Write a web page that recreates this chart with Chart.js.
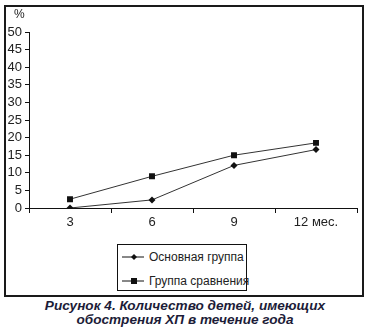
<!DOCTYPE html>
<html>
<head>
<meta charset="utf-8">
<script src="https://cdn.jsdelivr.net/npm/chart.js@4.4.0/dist/chart.umd.min.js"></script>
<style>
  html, body { margin: 0; padding: 0; background: #fff; }
  body { width: 370px; height: 334px; position: relative; overflow: hidden; font-family: "Liberation Sans", Arial, sans-serif; }
  #frame { position: absolute; left: 4px; top: 5px; width: 356px; height: 288px; border: 2px solid #1a1a1a; }
  #c { position: absolute; left: 0; top: 0; }
  #pct { position: absolute; left: 14px; top: 7px; font-size: 12px; color: #222; }
  #legend { position: absolute; left: 117px; top: 244px; width: 128px; height: 45px; border: 1.5px solid #111; font-size: 12px; color: #222; }
  .item { position: absolute; left: 4px; height: 14px; line-height: 14px; white-space: nowrap; }
  .item svg { position: absolute; left: 0; top: 1px; }
  .item span { position: absolute; left: 27px; top: 0; }
  #caption { position: absolute; left: 0; width: 370px; top: 299px; text-align: center; font-weight: bold; font-style: italic; font-size: 13.6px; line-height: 14px; color: #1c1c38; }
</style>
</head>
<body>
<div id="frame"></div>
<canvas id="c" width="370" height="240"></canvas>
<div id="pct">%</div>
<div id="legend">
  <div class="item" style="top:5px"><svg width="24" height="12"><line x1="0" y1="6" x2="22" y2="6" stroke="#111" stroke-width="1"/><polygon points="12,3 15,6 12,9 9,6" fill="#111"/></svg><span id="l0"></span></div>
  <div class="item" style="top:29px"><svg width="24" height="12"><line x1="0" y1="6" x2="22" y2="6" stroke="#111" stroke-width="1"/><rect x="9" y="3" width="6" height="6" fill="#111"/></svg><span id="l1"></span></div>
</div>
<div id="caption">Рисунок 4. Количество детей, имеющих<br>обострения ХП в течение года</div>
<script>
const categories = ["3", "6", "9", "12 мес."];
const seriesNames = ["Основная группа", "Группа сравнения"];
const mainGroup = [0, 2.3, 12.1, 16.6];
const compareGroup = [2.5, 9.0, 15.0, 18.5];
const yTicks = [0, 5, 10, 15, 20, 25, 30, 35, 40, 45, 50];

document.getElementById('l0').textContent = seriesNames[0];
document.getElementById('l1').textContent = seriesNames[1];

const font = { family: '"Liberation Sans", Arial, sans-serif', size: 13 };

new Chart(document.getElementById('c'), {
  type: 'line',
  data: {
    labels: categories,
    datasets: [
      { label: seriesNames[0], data: mainGroup, borderColor: '#333', borderWidth: 1, pointStyle: 'rectRot', pointRadius: 3.5, pointBackgroundColor: '#111', pointBorderColor: '#111', pointBorderWidth: 0, tension: 0 },
      { label: seriesNames[1], data: compareGroup, borderColor: '#333', borderWidth: 1, pointStyle: 'rect', pointRadius: 4.2, pointBackgroundColor: '#111', pointBorderColor: '#111', pointBorderWidth: 0, tension: 0 }
    ]
  },
  options: {
    responsive: false,
    animation: false,
    devicePixelRatio: 1,
    layout: { padding: { left: 0, right: 13, top: 32, bottom: 0 } },
    plugins: { legend: { display: false }, tooltip: { enabled: false } },
    scales: {
      x: {
        type: 'category',
        offset: true,
        grid: { display: true, drawOnChartArea: false, drawTicks: true, tickLength: 5, offset: true, color: '#111' },
        border: { display: true, color: '#111', width: 1 },
        ticks: { font: font, color: '#222', padding: 2, maxRotation: 0, autoSkip: false },
        afterFit: s => { s.height = 32; }
      },
      y: {
        min: 0, max: 50,
        afterBuildTicks: s => { s.ticks = yTicks.map(v => ({ value: v })); },
        grid: { display: true, drawOnChartArea: false, drawTicks: true, tickLength: 4, color: '#111' },
        border: { display: true, color: '#111', width: 1 },
        ticks: { font: font, color: '#222', padding: 3, autoSkip: false },
        afterFit: s => { s.width = 29; }
      }
    }
  }
});
</script>
</body>
</html>
